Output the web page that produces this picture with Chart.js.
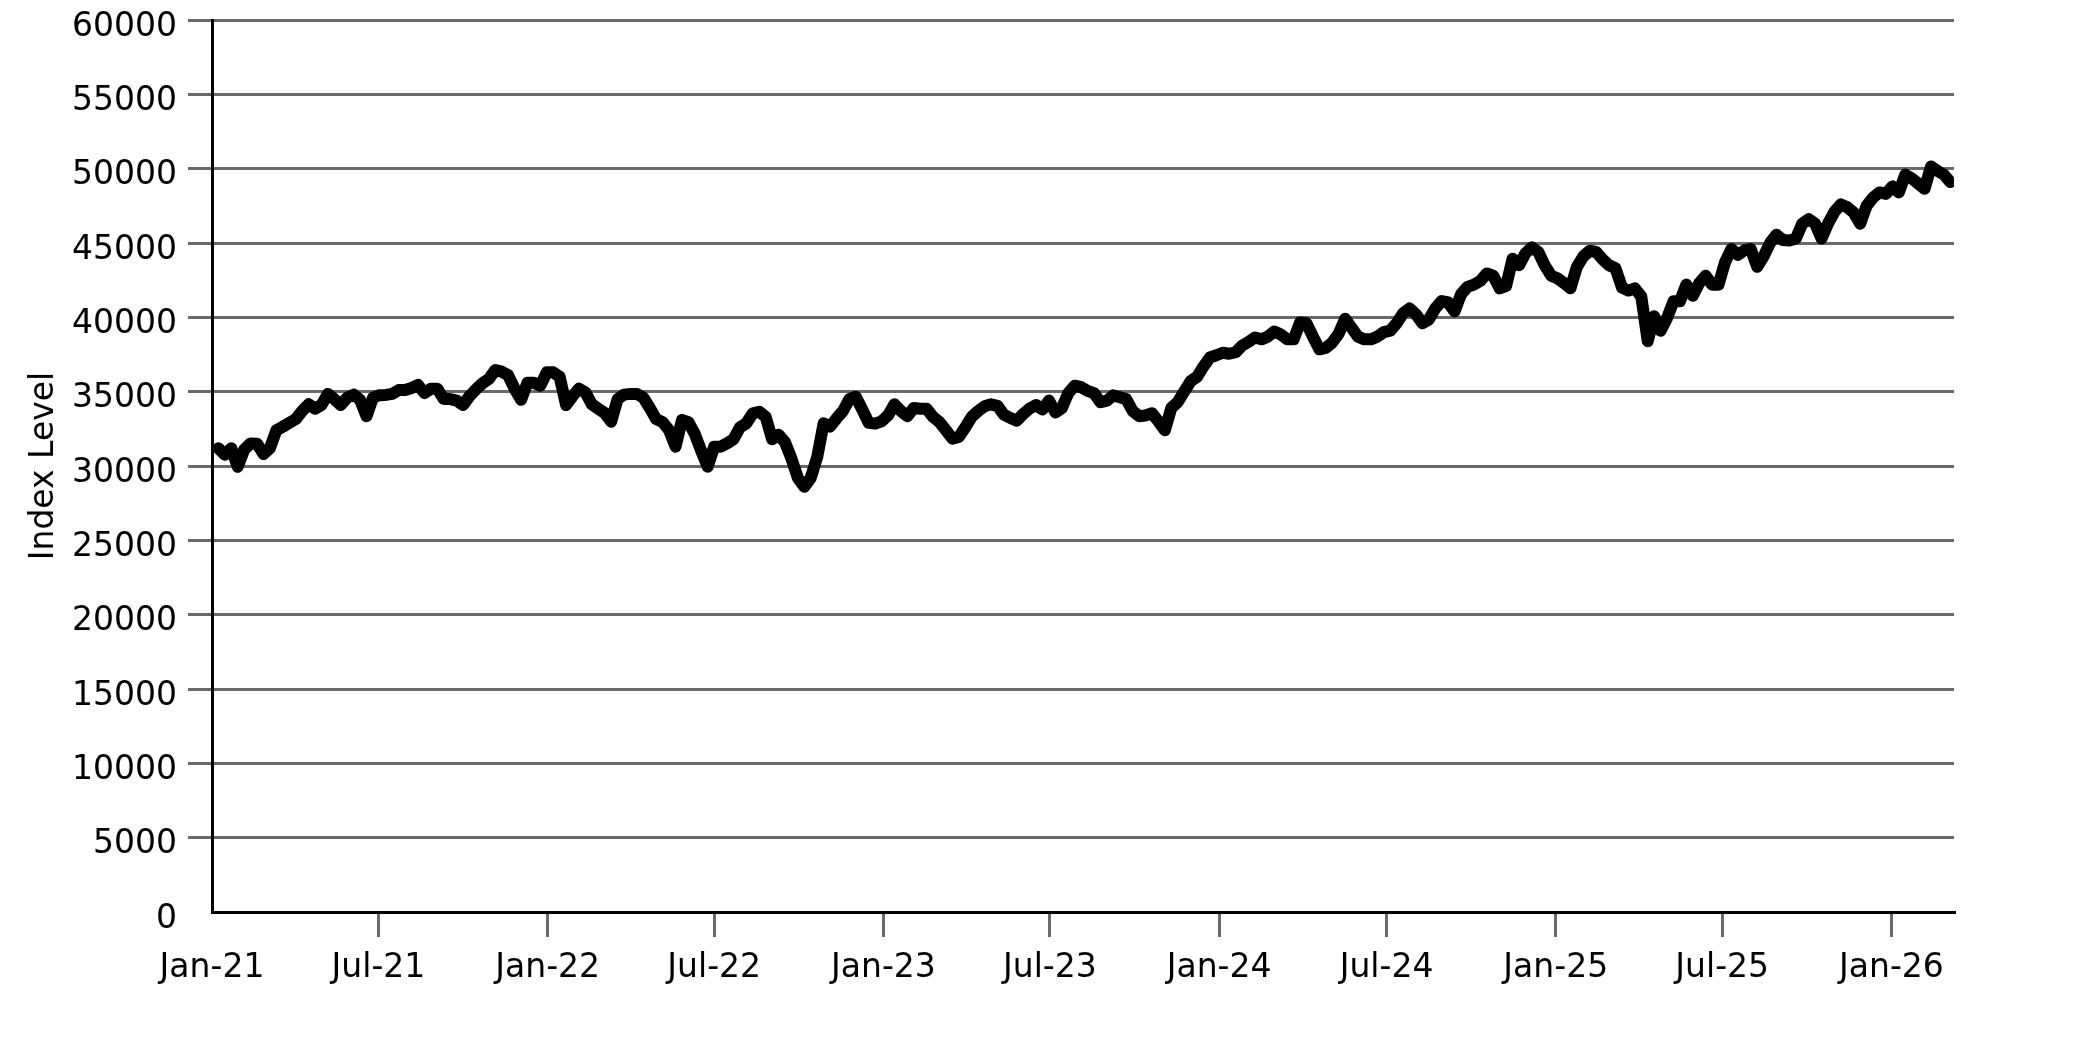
<!DOCTYPE html>
<html>
<head>
<meta charset="utf-8">
<title>Index Level</title>
<script src="https://cdn.jsdelivr.net/npm/chart.js@4.4.1/dist/chart.umd.min.js"></script>
<style>
  html, body { margin: 0; padding: 0; background: #fff; }
  #wrap { width: 2083px; height: 1042px; position: relative; }
</style>
</head>
<body>
<div id="wrap"><canvas id="indexChart"></canvas></div>
<script>
// weekly closes, first one on START_DATE
const START_DATE = "2021-01-08";
const AXIS_START = "2021-01-01";
const AXIS_END = "2026-03-10";

const indexLevels = [
  31190, 30760, 31190, 29950, 31100, 31520, 31500, 30800, 31200, 32400,
  32640, 32900, 33150, 33700, 34150, 33850, 34100, 34850, 34500, 34100,
  34600, 34800, 34450, 33350, 34600, 34760, 34780, 34850, 35110, 35110,
  35250, 35450, 34900, 35200, 35200, 34500, 34500, 34400, 34100, 34700,
  35150, 35560, 35850, 36460, 36350, 36100, 35200, 34450, 35600, 35600,
  35400, 36300, 36300, 36000, 34100, 34700, 35200, 34950, 34150, 33850,
  33560, 32980, 34500, 34800, 34850, 34850, 34600, 33900, 33150, 32950,
  32400, 31300, 33100, 32950, 32150, 31000, 29950, 31300, 31300, 31520,
  31800, 32600, 32870, 33550, 33650, 33300, 31800, 32100, 31600, 30500,
  29200, 28600, 29200, 30600, 32870, 32650, 33200, 33700, 34500, 34660,
  33800, 32900, 32850, 33000, 33400, 34150, 33700, 33350, 33900, 33850,
  33850, 33300, 32950, 32400, 31840, 31950, 32600, 33300, 33700, 34020,
  34150, 34050, 33450, 33230, 33050, 33500, 33870, 34100, 33800, 34400,
  33600, 33900, 34900, 35400, 35300, 35050, 34900, 34290, 34400, 34750,
  34620, 34500, 33700, 33350, 33400, 33550, 33000, 32400, 33900, 34300,
  35000, 35700, 36000, 36700, 37300, 37450, 37620, 37550, 37650, 38100,
  38350, 38650, 38520, 38700, 39050, 38850, 38520, 38520, 39650, 39600,
  38700, 37850, 37950, 38300, 38900, 39900, 39300, 38700, 38520, 38520,
  38700, 39000, 39100, 39600, 40270, 40600, 40200, 39600, 39850, 40600,
  41100, 41000, 40400, 41550, 42050, 42200, 42450, 42950, 42800, 41950,
  42100, 43940, 43500, 44300, 44700, 44400, 43500, 42800, 42620, 42300,
  41950, 43400, 44100, 44480, 44400, 43900, 43500, 43300, 42000, 41800,
  41950, 41400, 38400, 40070, 39100, 39950, 41080, 41080, 42200, 41450,
  42300, 42800, 42200, 42200, 43700, 44600, 44200, 44500, 44600, 43400,
  44100, 45000, 45550, 45200, 45170, 45300, 46300, 46600, 46300, 45300,
  46300, 47100, 47600, 47400, 47040, 46300, 47500, 48050, 48400, 48300,
  48810, 48400, 49600, 49350, 49000, 48650, 50150, 49850, 49600, 49100,
];

const tickDates = [
  "2021-01-01", "2021-07-01", "2022-01-01", "2022-07-01", "2023-01-01", "2023-07-01",
  "2024-01-01", "2024-07-01", "2025-01-01", "2025-07-01", "2026-01-01",
];
const tickLabels = [
  "Jan-21", "Jul-21", "Jan-22", "Jul-22", "Jan-23", "Jul-23",
  "Jan-24", "Jul-24", "Jan-25", "Jul-25", "Jan-26",
];

const Y_MIN = 0;
const Y_MAX = 60000;
const Y_STEP = 5000;

const GRID_COLOR = "#6a6a6a";
const CLEAR = "rgba(0,0,0,0)";
const FONT = { family: "'DejaVu Sans', sans-serif", size: 33 };

function dayNumber(text) {
  const base = Date.parse(AXIS_START + "T00:00:00Z");
  return Math.round((Date.parse(text + "T00:00:00Z") - base) / 86400000);
}

const firstDay = dayNumber(START_DATE);
const points = indexLevels.map((value, i) => ({ x: firstDay + 7 * i, y: value }));

new Chart(document.getElementById("indexChart"), {
  type: "line",
  data: {
    datasets: [
      {
        label: "Index Level",
        data: points,
        borderColor: "#000",
        borderWidth: 12,
        borderJoinStyle: "round",
        borderCapStyle: "round",
        pointRadius: 0,
        tension: 0,
        fill: false,
      },
    ],
  },
  options: {
    responsive: true,
    maintainAspectRatio: false,
    animation: false,
    layout: { padding: { left: 0, right: 129, top: 20, bottom: 0 } },
    plugins: {
      legend: { display: false },
      tooltip: { enabled: false },
    },
    scales: {
      x: {
        type: "linear",
        min: 0,
        max: dayNumber(AXIS_END),
        afterBuildTicks(scale) {
          scale.ticks = tickDates.map((d) => ({ value: dayNumber(d) }));
        },
        afterFit(scale) {
          scale.height = 130;
        },
        ticks: {
          autoSkip: false,
          maxRotation: 0,
          padding: 12,
          color: "#000",
          font: FONT,
          callback(value, index) {
            return tickLabels[index];
          },
        },
        grid: {
          drawOnChartArea: false,
          drawTicks: true,
          tickLength: 25,
          lineWidth: 3,
          color: (ctx) => (ctx.index === 0 ? CLEAR : GRID_COLOR),
        },
        border: { display: true, color: "#000", width: 3 },
      },
      y: {
        min: Y_MIN,
        max: Y_MAX,
        afterFit(scale) {
          scale.width = 212;
          // labels may overflow the top, the layout padding already covers it
          scale.paddingTop = 0;
          scale.paddingBottom = 0;
        },
        ticks: {
          stepSize: Y_STEP,
          padding: 11,
          labelOffset: 7,
          color: "#000",
          font: FONT,
          callback(value) {
            return String(value);
          },
        },
        grid: {
          drawTicks: true,
          tickLength: 24,
          lineWidth: 3,
          color: (ctx) => (ctx.tick && ctx.tick.value === 0 ? CLEAR : GRID_COLOR),
        },
        border: { display: true, color: "#000", width: 3 },
        title: {
          display: true,
          text: "Index Level",
          color: "#000",
          font: FONT,
          padding: { top: 25, bottom: 0 },
        },
      },
    },
  },
});
</script>
</body>
</html>
